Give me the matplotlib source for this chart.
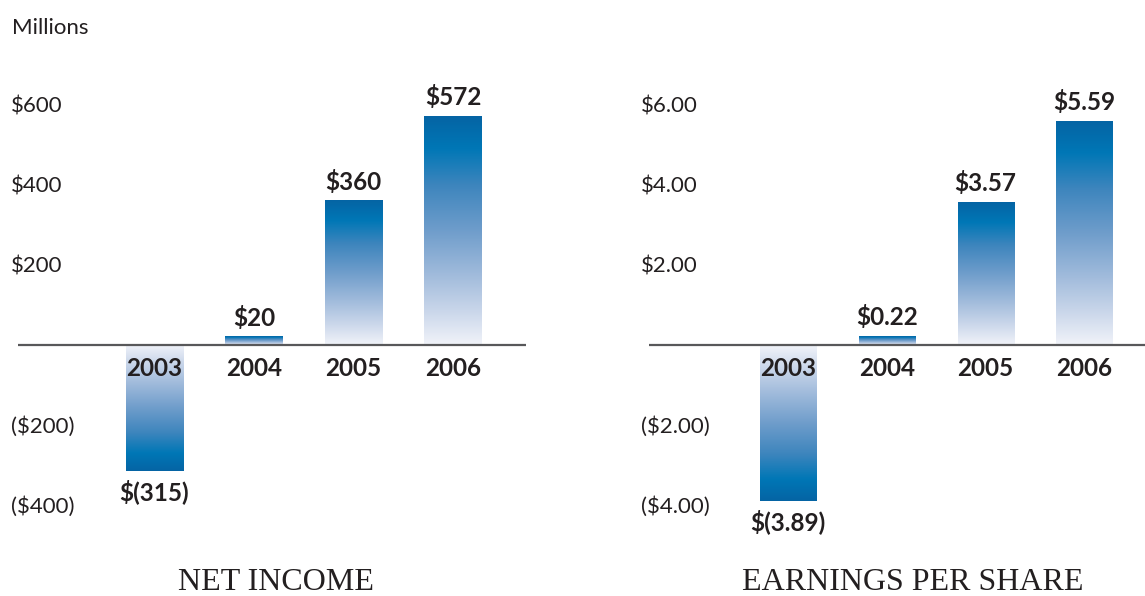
import numpy as np
import matplotlib
matplotlib.use("Agg")
import matplotlib.pyplot as plt
from matplotlib.colors import LinearSegmentedColormap
import matplotlib.transforms as mtransforms

# ------------------------------
# Data
# ------------------------------
years = ["2003", "2004", "2005", "2006"]

net_income = [-315, 20, 360, 572]
net_income_labels = ["$(315)", "$20", "$360", "$572"]
ni_ticks = [600, 400, 200, -200, -400]
ni_tick_labels = ["$600", "$400", "$200", "($200)", "($400)"]

eps = [-3.89, 0.22, 3.57, 5.59]
eps_labels = ["$(3.89)", "$0.22", "$3.57", "$5.59"]
eps_ticks = [6, 4, 2, -2, -4]
eps_tick_labels = ["$6.00", "$4.00", "$2.00", "($2.00)", "($4.00)"]

TEXT = "#231f20"
SANS = ["Lato", "DejaVu Sans"]

# base of bar (near white) -> tip of bar (dark blue)
grad = LinearSegmentedColormap.from_list(
    "bar_grad",
    [(0.0, "#f1f3f9"), (0.15, "#c9d6ea"), (0.30, "#a2bcdc"),
     (0.50, "#6f9dcb"), (0.70, "#3d85bd"), (0.86, "#0077b6"), (1.0, "#0564a4")])

fig = plt.figure(figsize=(11.45, 5.96), dpi=100)


def panel(left_px, right_px, xlim, ylim, bar_w, values, val_labels,
          ticks, tick_labels, tick_x_px, title, title_x_px):
    W, H = 1145, 596
    # vertical placement: same for both panels
    ax = fig.add_axes([left_px / W, 71 / H, (right_px - left_px) / W, 440 / H])
    ax.set_xlim(*xlim)
    ax.set_ylim(*ylim)
    ax.axis("off")

    x = np.arange(len(values))
    g = np.linspace(0, 1, 256).reshape(-1, 1)
    for xi, v in zip(x, values):
        ax.imshow(g, cmap=grad, origin="lower", aspect="auto",
                  interpolation="bilinear",
                  extent=[xi - bar_w / 2, xi + bar_w / 2, 0, v], zorder=1)
    ax.axhline(0, color="#58585a", lw=1.6, zorder=2)

    for xi, v, lab in zip(x, values, val_labels):
        if v >= 0:
            ax.annotate(lab, (xi, v), xytext=(0, 5), textcoords="offset points",
                        ha="center", va="bottom", fontsize=17.5,
                        fontweight="bold", color=TEXT, family=SANS)
        else:
            ax.annotate(lab, (xi, v), xytext=(0, -6), textcoords="offset points",
                        ha="center", va="top", fontsize=17.5,
                        fontweight="bold", color=TEXT, family=SANS)

    for xi, yr in zip(x, years):
        ax.annotate(yr, (xi, 0), xytext=(0, -17), textcoords="offset points",
                    ha="center", va="center", fontsize=17.5,
                    fontweight="bold", color=TEXT, family=SANS, zorder=3)

    trans = mtransforms.blended_transform_factory(fig.transFigure, ax.transData)
    for t, tl in zip(ticks, tick_labels):
        ax.text(tick_x_px / W, t, tl, transform=trans, ha="left",
                va="center_baseline", fontsize=16, color=TEXT, family=SANS,
                clip_on=False)

    fig.text(title_x_px / W, 1 - 582 / H, title, ha="center", va="center",
             fontsize=23, color=TEXT, family=["Liberation Serif", "DejaVu Serif"])
    return ax


panel(18, 526, (-1.372, 3.734), (-450, 650), 0.573, net_income,
      net_income_labels, ni_ticks, ni_tick_labels, 11, "NET INCOME", 276)

panel(649, 1145, (-1.407, 3.613), (-4.5, 6.5), 0.567, eps,
      eps_labels, eps_ticks, eps_tick_labels, 641, "EARNINGS PER SHARE", 913)

fig.text(12 / 1145, 1 - 26 / 596, "Millions", ha="left", va="center_baseline",
         fontsize=16, color=TEXT, family=SANS)

plt.savefig("out.png", dpi=100)
